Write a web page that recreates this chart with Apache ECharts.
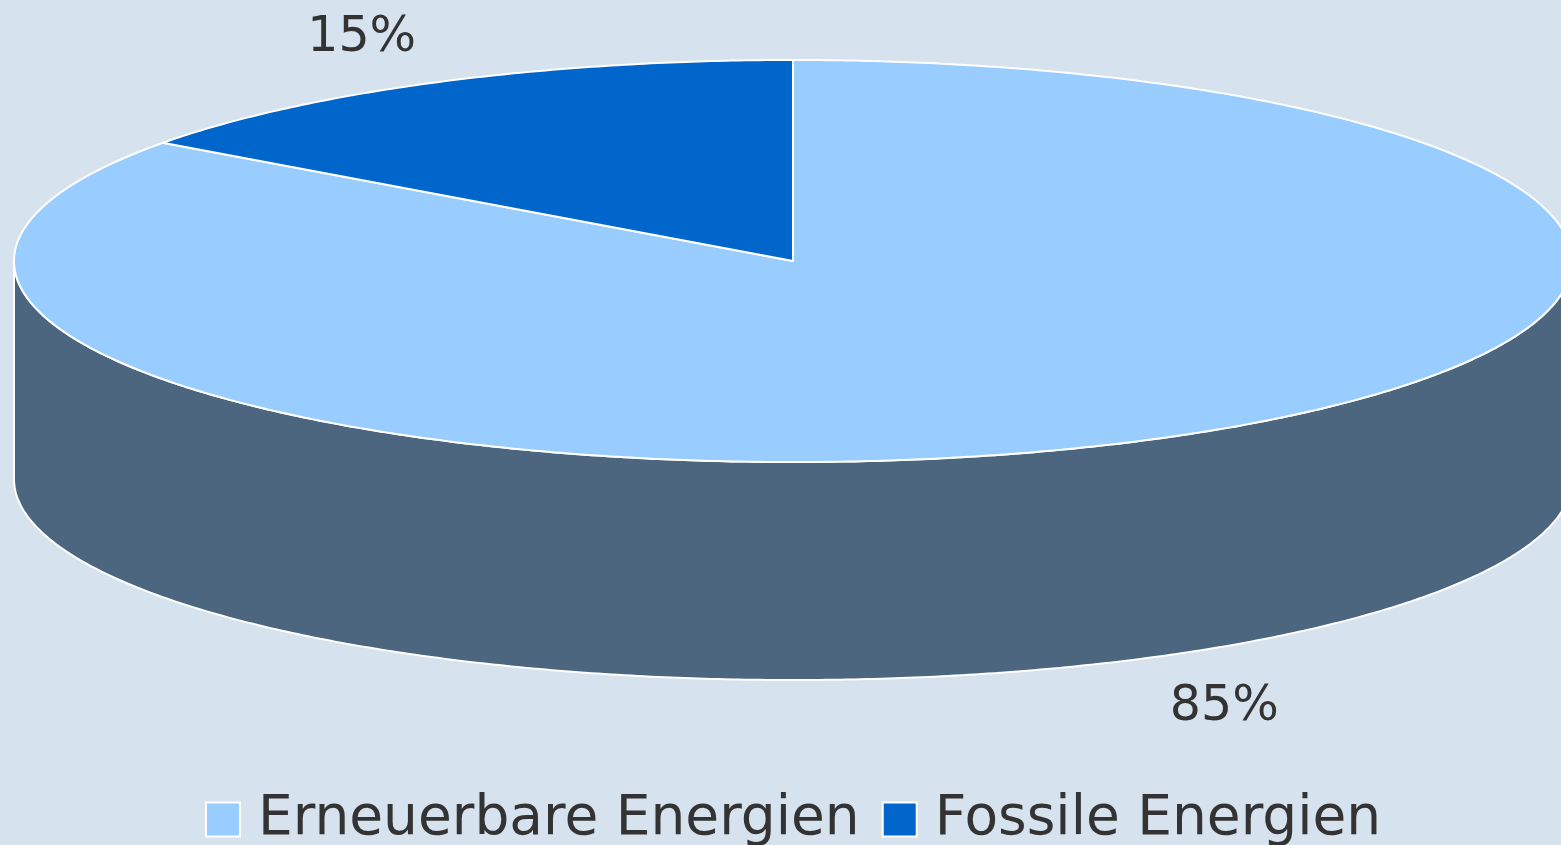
<!DOCTYPE html>
<html>
<head>
<meta charset="utf-8">
<script src="https://cdn.jsdelivr.net/npm/echarts@6/dist/echarts.min.js"></script>
<style>
html,body{margin:0;padding:0;background:#d6e2ed;}
#chart{width:1561px;height:845px;}
</style>
</head>
<body>
<div id="chart"></div>
<script>
const categories = ['Erneuerbare Energien', 'Fossile Energien'];
const shares = [85, 15];
const sliceColors = ['#99ccff', '#0066cc'];
const sideColor = '#4c6680';

// layout of the 3D ellipse
const CX = 793, CY = 261, RX = 779, RY = 201, DEPTH = 218;
const LABEL_RX = 950, LABEL_RY = 250, FRONT_LABEL_EXTRA = 6;

const total = shares.reduce((a, b) => a + b, 0);

function pt(deg) {
  const r = deg * Math.PI / 180;
  return [CX + RX * Math.cos(r), CY - RY * Math.sin(r)];
}
function arcPoints(from, to, dy) {
  const pts = [];
  const n = Math.max(2, Math.ceil(Math.abs(to - from) / 0.5));
  for (let k = 0; k <= n; k++) {
    const a = from + (to - from) * k / n;
    const p = pt(a);
    pts.push([p[0], p[1] + (dy || 0)]);
  }
  return pts;
}

function makeRender(idx) {
  return function (params, api) {
    const v = api.value(0);
    let before = 0;
    for (let i = 0; i < idx; i++) before += shares[i];
    const a0 = 90 - before / total * 360;          // start (clockwise)
    const a1 = a0 - v / total * 360;               // end
    const children = [];
    // side walls (front part: angles in (-180+360k, 360k))
    const lo = Math.min(a0, a1), hi = Math.max(a0, a1);
    for (let k = -2; k <= 2; k++) {
      const fLo = -180 + 360 * k, fHi = 360 * k;
      const s = Math.max(lo, fLo), e = Math.min(hi, fHi);
      if (e > s) {
        const topEdge = arcPoints(s, e, 0);
        const botEdge = arcPoints(e, s, DEPTH);
        children.push({
          type: 'polygon',
          z2: 1,
          shape: { points: topEdge.concat(botEdge) },
          style: { fill: sideColor, stroke: '#ffffff', lineWidth: 2, lineJoin: 'round' }
        });
      }
    }
    // top face
    const topPts = [[CX, CY]].concat(arcPoints(a0, a1, 0));
    children.push({
      type: 'polygon',
      z2: 10,
      shape: { points: topPts },
      style: { fill: sliceColors[idx], stroke: '#ffffff', lineWidth: 2, lineJoin: 'round' }
    });
    // label
    const mid = (a0 + a1) / 2;
    const mr = mid * Math.PI / 180;
    const sn = Math.sin(mr);
    children.push({
      type: 'text',
      z2: 20,
      x: CX + LABEL_RX * Math.cos(mr),
      y: CY - LABEL_RY * sn + (sn < 0 ? DEPTH + FRONT_LABEL_EXTRA : 0),
      style: {
        text: Math.round(v / total * 100) + '%',
        fill: '#333333',
        font: '49px "DejaVu Sans"',
        align: 'center',
        verticalAlign: 'middle'
      }
    });
    return { type: 'group', children: children };
  };
}

const chart = echarts.init(document.getElementById('chart'));
chart.setOption({
  backgroundColor: '#d6e2ed',
  animation: false,
  legend: {
    data: categories,
    left: 200,
    top: 787,
    icon: 'rect',
    itemWidth: 34,
    itemHeight: 34,
    itemGap: 22,
    textStyle: { fontSize: 55, fontFamily: 'DejaVu Sans', color: '#333333', padding: [0, 0, 0, 13] },
    itemStyle: { borderColor: '#ffffff', borderWidth: 2 }
  },
  series: categories.map((name, i) => ({
    type: 'custom',
    name: name,
    coordinateSystem: 'none',
    itemStyle: { color: sliceColors[i] },
    renderItem: makeRender(i),
    data: [[shares[i]]]
  }))
});
</script>
</body>
</html>
